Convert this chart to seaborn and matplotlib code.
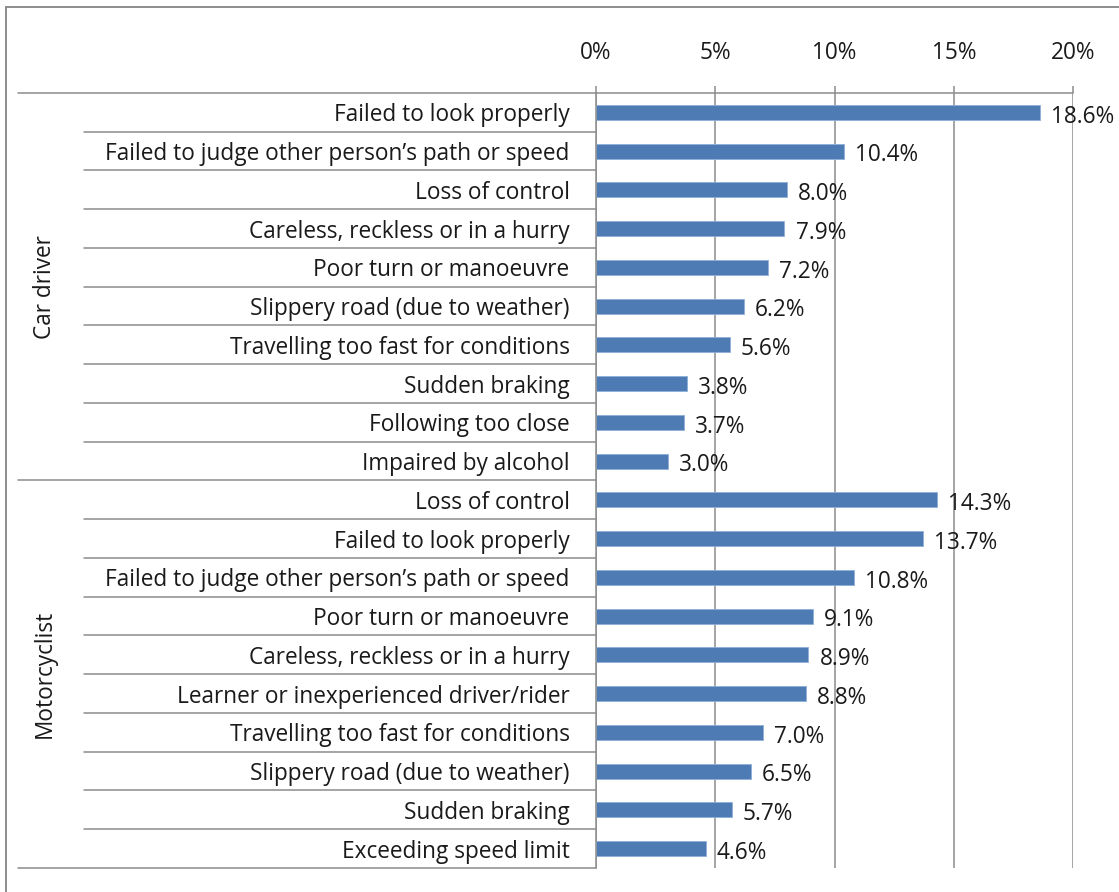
import pandas as pd
import seaborn as sns
import matplotlib.pyplot as plt
from matplotlib.lines import Line2D

# data
groups = ["Car driver", "Motorcyclist"]
car_causes = ["Failed to look properly",
              "Failed to judge other person’s path or speed",
              "Loss of control",
              "Careless, reckless or in a hurry",
              "Poor turn or manoeuvre",
              "Slippery road (due to weather)",
              "Travelling too fast for conditions",
              "Sudden braking",
              "Following too close",
              "Impaired by alcohol"]
car_values = [18.6, 10.4, 8.0, 7.9, 7.2, 6.2, 5.6, 3.8, 3.7, 3.0]
moto_causes = ["Loss of control",
               "Failed to look properly",
               "Failed to judge other person’s path or speed",
               "Poor turn or manoeuvre",
               "Careless, reckless or in a hurry",
               "Learner or inexperienced driver/rider",
               "Travelling too fast for conditions",
               "Slippery road (due to weather)",
               "Sudden braking",
               "Exceeding speed limit"]
moto_values = [14.3, 13.7, 10.8, 9.1, 8.9, 8.8, 7.0, 6.5, 5.7, 4.6]
xticks = [0, 5, 10, 15, 20]

df = pd.DataFrame({
    "group": [groups[0]] * len(car_causes) + [groups[1]] * len(moto_causes),
    "cause": car_causes + moto_causes,
    "value": car_values + moto_values,
})
df["key"] = df["group"] + "|" + df["cause"]

sns.set_style("white")
plt.rcParams['font.family'] = ['Open Sans', 'DejaVu Sans']
FS = 16.3

W, H = 1119, 892
fig = plt.figure(figsize=(W / 100, H / 100), dpi=100)
ax = fig.add_axes([596 / W, 1 - 868 / H, 477 / W, 775 / H])

GRAY = "#8c8c8c"
BLUE = "#4e7bb4"

sns.barplot(data=df, x="value", y="key", orient="h", color=BLUE,
            width=0.39, edgecolor="#8fb0d8", linewidth=0.6,
            saturation=1, ax=ax)

n = len(df)
ax.set_ylim(n - 0.5, -0.5)
ax.set_xlim(0, 20)
ax.set_yticks(range(n))
ax.set_yticklabels(df["cause"], fontsize=FS, color="#1a1a1a")
ax.tick_params(axis="y", length=0, pad=19)

ax.xaxis.tick_top()
ax.set_xticks(xticks)
ax.set_xticklabels([f"{t}%" for t in xticks], fontsize=FS, color="#1a1a1a")
ax.tick_params(axis="x", direction="out", length=5, width=1.1, color=GRAY, pad=15)
ax.set_xlabel("")
ax.set_ylabel("")

ax.grid(axis="x", color=GRAY, linewidth=1.1)
ax.set_axisbelow(True)
for s in ["right", "bottom"]:
    ax.spines[s].set_visible(False)
for s in ["left", "top"]:
    ax.spines[s].set_color(GRAY)
    ax.spines[s].set_linewidth(1.1)

# value labels
for i, v in enumerate(df["value"]):
    ax.annotate(f"{v:.1f}%", xy=(v, i), xytext=(8, -3), textcoords="offset points",
                ha="left", va="center", fontsize=FS, color="#1a1a1a")

# row separators on the category axis
tr = ax.get_yaxis_transform()
ncar = len(car_causes)
for b in range(n + 1):
    y = b - 0.5
    x0 = -1.212 if b in (0, ncar, n) else -1.073
    ax.add_line(Line2D([x0, 0], [y, y], transform=tr, color=GRAY,
                       linewidth=1.1, clip_on=False))

# group labels
ax.text(-1.155, (ncar - 1) / 2, groups[0], transform=tr, rotation=90,
        ha="center", va="center", fontsize=FS, color="#1a1a1a")
ax.text(-1.155, ncar + (n - ncar - 1) / 2, groups[1], transform=tr, rotation=90,
        ha="center", va="center", fontsize=FS, color="#1a1a1a")

# outer chart frame (left and top visible)
fig.add_artist(Line2D([6 / W, 6 / W], [0, 1 - 7 / H], transform=fig.transFigure,
                      color=GRAY, linewidth=1.4))
fig.add_artist(Line2D([6 / W, 1], [1 - 7 / H, 1 - 7 / H], transform=fig.transFigure,
                      color=GRAY, linewidth=1.4))

fig.savefig("out.png", dpi=100)
